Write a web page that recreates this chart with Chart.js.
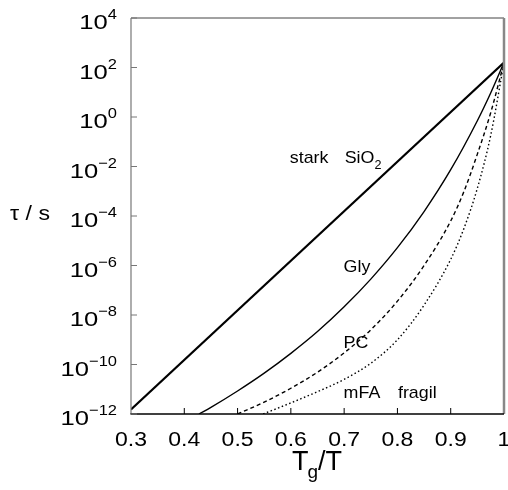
<!DOCTYPE html>
<html>
<head>
<meta charset="utf-8">
<script src="https://cdn.jsdelivr.net/npm/chart.js@4"></script>
<style>
  html, body { margin: 0; padding: 0; background: #fff; }
  canvas { display: block; }
</style>
</head>
<body>
<canvas id="c" width="508" height="490"></canvas>
<script>
// Achsen
const xTicks = [0.3, 0.4, 0.5, 0.6, 0.7, 0.8, 0.9, 1];
const yTickExps = [-12, -10, -8, -6, -4, -2, 0, 2, 4];

// log10(tau/s) gegen Tg/T
const sio2X = [0.3, 1.0];
const sio2Exp = [-11.82, 2.2];

const glyX = [0.4275, 0.45, 0.5, 0.55, 0.6, 0.65, 0.7, 0.75, 0.8, 0.85, 0.9, 0.95, 0.975, 1.0];
const glyExp = [-12, -11.73, -11.07, -10.35, -9.55, -8.67, -7.67, -6.55, -5.28, -3.82, -2.13, -0.15, 0.97, 2.2];

const pcX = [0.5, 0.55, 0.6, 0.65, 0.7, 0.75, 0.8, 0.85, 0.9, 0.925, 0.95, 0.975, 1.0];
const pcExp = [-12, -11.52, -10.96, -10.31, -9.53, -8.6, -7.44, -6.0, -4.2, -3.0, -1.5, 0.17, 2.2];

const mfaX = [0.548, 0.6, 0.65, 0.7, 0.75, 0.8, 0.85, 0.9, 0.925, 0.95, 0.975, 1.0];
const mfaExp = [-12, -11.55, -11.1, -10.6, -9.95, -9.0, -7.6, -5.75, -4.49, -2.88, -0.75, 2.2];

// Beschriftungen im Diagramm (x, log10 y)
const notes = [
  { t: 'stark', x: 0.598, e: -1.85 },
  { t: 'SiO', sub: '2', x: 0.701, e: -1.85 },
  { t: 'Gly', x: 0.699, e: -6.26 },
  { t: 'PC', x: 0.699, e: -9.34 },
  { t: 'mFA', x: 0.699, e: -11.36 },
  { t: 'fragil', x: 0.801, e: -11.36 }
];

const FONT = '"Liberation Sans", Arial, sans-serif';

function pts(xs, es) {
  return xs.map((x, i) => ({ x: x, y: Math.pow(10, es[i]) }));
}

function txt(ctx, s, x, y, size, sx, align) {
  ctx.save();
  ctx.font = size + 'px ' + FONT;
  const w = ctx.measureText(s).width * sx;
  let x0 = x;
  if (align === 'right') x0 = x - w;
  else if (align === 'center') x0 = x - w / 2;
  ctx.translate(x0, y);
  ctx.scale(sx, 1);
  ctx.textAlign = 'left';
  ctx.textBaseline = 'alphabetic';
  ctx.fillStyle = '#000';
  ctx.fillText(s, 0, 0);
  ctx.restore();
  return w;
}

function txtW(ctx, s, size, sx) {
  ctx.save();
  ctx.font = size + 'px ' + FONT;
  const w = ctx.measureText(s).width * sx;
  ctx.restore();
  return w;
}

function line(ctx, x1, y1, x2, y2, color, width) {
  ctx.save();
  ctx.strokeStyle = color;
  ctx.lineWidth = width;
  ctx.beginPath();
  ctx.moveTo(x1, y1);
  ctx.lineTo(x2, y2);
  ctx.stroke();
  ctx.restore();
}

const frame = {
  id: 'frame',
  afterDraw(chart) {
    const ctx = chart.ctx;
    const a = chart.chartArea;
    const xs = chart.scales.x, ys = chart.scales.y;

    // Rahmen
    line(ctx, a.left, a.top, a.right, a.top, '#444', 1);
    line(ctx, a.right, a.top, a.right, a.bottom, '#888', 2.5);
    line(ctx, a.left, a.top, a.left, a.bottom, '#777', 1.2);
    line(ctx, a.left - 0.5, a.bottom, a.right, a.bottom, '#000', 1.6);

    // y-Achse
    yTickExps.forEach(e => {
      const py = ys.getPixelForValue(Math.pow(10, e));
      line(ctx, a.left, py, a.left + 6, py, '#777', 1);
      const ex = e < 0 ? '\u2212' + (-e) : String(e);
      const wEx = txtW(ctx, ex, 15, 1.1);
      const wB = txtW(ctx, '10', 21, 1.22);
      const right = 117;
      txt(ctx, '10', right - wEx - wB, py + 11, 21, 1.22, 'left');
      txt(ctx, ex, right - wEx, py + 1, 15, 1.1, 'left');
    });

    // x-Achse
    xTicks.forEach(v => {
      const px = xs.getPixelForValue(v);
      if (v > 0.3 && v < 1) line(ctx, px, a.bottom, px, a.bottom - 6, '#000', 1);
      txt(ctx, String(v), px, a.bottom + 32, 20, 1.15, 'center');
    });

    // Achsentitel
    txt(ctx, '\u03c4 / s', 30, 220, 21, 1.1, 'center');
    const cx = (a.left + a.right) / 2;
    const wT = txtW(ctx, 'T', 27, 1);
    const wg = txtW(ctx, 'g', 19, 1);
    const wR = txtW(ctx, '/T', 27, 1);
    let x0 = cx - (wT + wg + wR) / 2;
    txt(ctx, 'T', x0, 470, 27, 1, 'left');
    txt(ctx, 'g', x0 + wT - 1, 478, 19, 1, 'left');
    txt(ctx, '/T', x0 + wT + wg - 1, 470, 27, 1, 'left');

    // Kurvennamen
    notes.forEach(n => {
      const px = xs.getPixelForValue(n.x);
      const py = ys.getPixelForValue(Math.pow(10, n.e));
      const w = txt(ctx, n.t, px, py, 17, 1.05, 'left');
      if (n.sub) txt(ctx, n.sub, px + w, py + 6, 12, 1.05, 'left');
    });
  }
};

const common = {
  pointRadius: 0,
  borderColor: '#000',
  fill: false,
  cubicInterpolationMode: 'monotone'
};

new Chart(document.getElementById('c').getContext('2d'), {
  type: 'line',
  data: {
    datasets: [
      Object.assign({ label: 'SiO2', data: pts(sio2X, sio2Exp), borderWidth: 2.2 }, common),
      Object.assign({ label: 'Gly', data: pts(glyX, glyExp), borderWidth: 1.4 }, common),
      Object.assign({ label: 'PC', data: pts(pcX, pcExp), borderWidth: 1.4, borderDash: [4, 3] }, common),
      Object.assign({ label: 'mFA', data: pts(mfaX, mfaExp), borderWidth: 1.4, borderDash: [1.5, 2.5] }, common)
    ]
  },
  options: {
    responsive: false,
    animation: false,
    layout: { padding: { top: 18, right: 4, left: 0, bottom: 0 } },
    plugins: { legend: { display: false }, tooltip: { enabled: false } },
    scales: {
      x: {
        type: 'linear', min: 0.3, max: 1,
        grid: { display: false }, border: { display: false },
        ticks: { display: false },
        afterFit: s => { s.height = 76; }
      },
      y: {
        type: 'logarithmic', min: 1e-12, max: 1e4,
        grid: { display: false }, border: { display: false },
        ticks: { display: false },
        afterFit: s => { s.width = 131; }
      }
    }
  },
  plugins: [frame]
});
</script>
</body>
</html>
